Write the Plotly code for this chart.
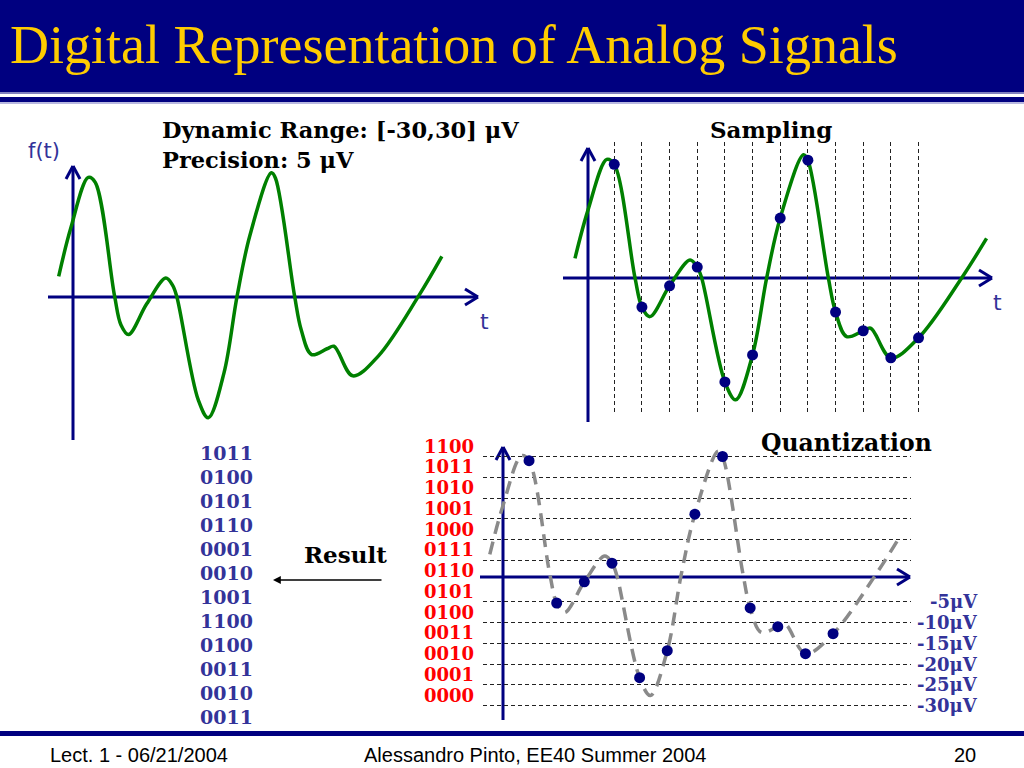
import plotly.graph_objects as go

W, H = 1024, 768

# ---------------- data ----------------
# analog signal f(t): t in sample periods, value in microvolts
CURVE_T = [-0.42, 0.05, 0.73, 1.0, 1.75, 2.0, 2.29, 3.0, 3.74, 4.0, 4.16, 5.0, 5.39,
           6.0, 6.51, 7.0, 7.84, 8.0, 8.74, 9.0, 9.4, 10.0, 10.27, 11.0, 12.0, 13.56, 14.46]
CURVE_V = [6.4, 18.0, 30.2, 29.0, 1.7, -5.3, -7.6, -0.2, 6.0, 4.3, 1.7, -23.3, -27.6,
           -16.8, 1.7, 16.1, 31.3, 30.0, 1.7, -6.5, -12.4, -11.0, -10.4, -17.5, -12.7, 1.7, 11.2]

# samples
SAMPLE_T = [1, 2, 3, 4, 5, 6, 7, 8, 9, 10, 11, 12]
SAMPLE_V = [29.0, -5.3, -0.2, 4.3, -23.3, -16.8, 16.1, 30.0, -6.5, -11.0, -17.5, -12.7]

# quantization levels (uV) and codes
LEVELS = [-30, -25, -20, -15, -10, -5, 5, 10, 15, 20, 25, 30]
CODES = ["0000", "0001", "0010", "0011", "0100", "0101", "0110",
         "0111", "1000", "1001", "1010", "1011", "1100"]
CODE_V = [-27.5, -22.5, -17.5, -12.5, -7.5, -2.5, 2.5, 7.5, 12.5, 17.5, 22.5, 27.5, 32.5]
UV_LEVELS = [-5, -10, -15, -20, -25, -30]
UV_LABELS = ["-5μV", "-10μV", "-15μV", "-20μV", "-25μV", "-30μV"]

RESULT_CODES = ["1011", "0100", "0101", "0110", "0001", "0010",
                "1001", "1100", "0100", "0011", "0010", "0011"]

TITLE = "Digital Representation of Analog Signals"
FOOTER_LEFT = "Lect. 1 - 06/21/2004"
FOOTER_MID = "Alessandro Pinto, EE40 Summer 2004"
FOOTER_RIGHT = "20"

# ---------------- styles ----------------
NAVY = "#000080"
LABEL_NAVY = "#333399"
GREEN = "#008000"
GRAY = "#8a8a8a"
RED = "#ff0000"
SERIF_B = "DejaVu Serif"


def px(x):
    return x / W


def py(y):
    return 1 - y / H


def axes(xbox, ybox, x0, sx, y0, sy):
    xd = [xbox[0] / W, xbox[1] / W]
    xr = [(xbox[0] - x0) / sx, (xbox[1] - x0) / sx]
    yd = [1 - ybox[1] / H, 1 - ybox[0] / H]
    yr = [(y0 - ybox[1]) / sy, (y0 - ybox[0]) / sy]
    return xd, xr, yd, yr


fig = go.Figure()

# left: f(t)
fig.add_trace(go.Scatter(x=CURVE_T, y=CURVE_V, mode="lines", line=dict(color=GREEN, width=3.5, shape="spline", smoothing=1.0),
                         xaxis="x", yaxis="y", hoverinfo="skip"))
# sampling
fig.add_trace(go.Scatter(x=CURVE_T, y=CURVE_V, mode="lines", line=dict(color=GREEN, width=3.5, shape="spline", smoothing=1.0),
                         xaxis="x2", yaxis="y2", hoverinfo="skip"))
fig.add_trace(go.Scatter(x=SAMPLE_T, y=SAMPLE_V, mode="markers", marker=dict(color=NAVY, size=11),
                         xaxis="x2", yaxis="y2", hoverinfo="skip"))
# quantization
fig.add_trace(go.Scatter(x=CURVE_T, y=CURVE_V, mode="lines",
                         line=dict(color=GRAY, width=3.5, shape="spline", smoothing=1.0, dash="13px,8px"),
                         xaxis="x3", yaxis="y3", hoverinfo="skip"))
fig.add_trace(go.Scatter(x=SAMPLE_T, y=SAMPLE_V, mode="markers", marker=dict(color=NAVY, size=11),
                         xaxis="x3", yaxis="y3", hoverinfo="skip"))

base = dict(showticklabels=False, zeroline=False, showline=False, ticks="", fixedrange=True)

xd, xr, yd, yr = axes([40, 480], [150, 445], 69.5, 25.75, 303, 4.16)
lay = dict(xaxis=dict(domain=xd, range=xr, showgrid=False, **base),
           yaxis=dict(domain=yd, range=yr, showgrid=False, **base))

xd, xr, yd, yr = axes([563, 995], [142, 415], 586.6, 27.66, 285, 4.16)
lay["xaxis2"] = dict(domain=xd, range=xr, showgrid=True, tickvals=SAMPLE_T, gridcolor="#222222",
                     gridwidth=1, griddash="4px,3px", anchor="y2", **base)
lay["yaxis2"] = dict(domain=yd, range=yr, showgrid=False, anchor="x2", **base)

xd, xr, yd, yr = axes([483, 911], [445, 720], 501.4, 27.64, 581, 4.15)
lay["xaxis3"] = dict(domain=xd, range=xr, showgrid=False, anchor="y3", **base)
lay["yaxis3"] = dict(domain=yd, range=yr, showgrid=True, tickvals=LEVELS, gridcolor="#222222",
                     gridwidth=1, griddash="4px,3px", anchor="x3", **base)

shapes = []


def rect(x0, y0, x1, y1, color):
    shapes.append(dict(type="rect", xref="paper", yref="paper", x0=px(x0), x1=px(x1), y0=py(y0), y1=py(y1),
                       fillcolor=color, line=dict(width=0), layer="below"))


def seg(x0, y0, x1, y1, color=NAVY, width=3):
    shapes.append(dict(type="line", xref="paper", yref="paper", x0=px(x0), x1=px(x1), y0=py(y0), y1=py(y1),
                       line=dict(color=color, width=width), layer="between"))


def arrow_axis(x0, y0, x1, y1):
    seg(x0, y0, x1, y1)
    if y0 == y1:  # horizontal to the right
        seg(x1, y1, x1 - 13, y1 - 8)
        seg(x1, y1, x1 - 13, y1 + 8)
    else:  # vertical upward
        seg(x1, y1, x1 - 7, y1 + 13)
        seg(x1, y1, x1 + 7, y1 + 13)


# header / footer bands
rect(0, 0, W, 92, NAVY)
rect(0, 92, W, 94, "#8080c0")
rect(0, 97, W, 102, NAVY)
rect(0, 102, W, 104, "#b8b8e0")
rect(0, 731, W, 736, NAVY)

# axes with arrows
arrow_axis(73, 440, 73, 166)
arrow_axis(48, 297, 478, 297)
arrow_axis(588, 422, 588, 148)
arrow_axis(563, 278, 992, 278)
arrow_axis(503, 720, 503, 447)
arrow_axis(480, 577, 910, 577)

ann = []


def text(x, y, s, size, color="black", family=SERIF_B, xanchor="left", bold=False, yref="paper"):
    ann.append(dict(x=px(x), y=(py(y) if yref == "paper" else y), xref="paper", yref=yref,
                    text=(f"<b>{s}</b>" if bold else s), showarrow=False,
                    xanchor=xanchor, yanchor="middle",
                    font=dict(size=size, color=color, family=family)))


text(8, 45, TITLE, 54, color="#ffcc00", family="Liberation Serif")
text(48, 755, FOOTER_LEFT, 20, family="Liberation Sans")
text(362, 755, FOOTER_MID, 20, family="Liberation Sans")
text(978, 755, FOOTER_RIGHT, 20, family="Liberation Sans", xanchor="right")

text(160, 130, "Dynamic Range: [-30,30] μV", 22.5, bold=True)
text(160, 160, "Precision: 5 μV", 22.5, bold=True)
text(771, 129, "Sampling", 23, bold=True, xanchor="center")
text(846, 443, "Quantization", 23.5, bold=True, xanchor="center")
text(345, 554, "Result", 23, bold=True, xanchor="center")

text(44, 151, "f(t)", 21, color=LABEL_NAVY, family="DejaVu Sans", xanchor="center")
text(484, 322, "t", 22, color=LABEL_NAVY, family="DejaVu Sans", xanchor="center")
text(997, 302, "t", 22, color=LABEL_NAVY, family="DejaVu Sans", xanchor="center")

for i, c in enumerate(RESULT_CODES):
    text(226, 453 + 24 * i, c, 19, color=LABEL_NAVY, bold=True, xanchor="center")

for c, v in zip(CODES, CODE_V):
    text(476, v, c, 18, color=RED, bold=True, xanchor="right", yref="y3")

for lab, v in zip(UV_LABELS, UV_LEVELS):
    text(980, v, lab, 18, color=LABEL_NAVY, bold=True, xanchor="right", yref="y3")

# Result arrow
ann.append(dict(x=px(273), y=py(580), xref="paper", yref="paper", text="", showarrow=True,
                ax=110, ay=0, axref="pixel", ayref="pixel", arrowhead=2, arrowsize=1.2,
                arrowwidth=1.3, arrowcolor="black", standoff=0))

fig.update_layout(width=W, height=H, margin=dict(l=0, r=0, t=0, b=0),
                  paper_bgcolor="white", plot_bgcolor="rgba(0,0,0,0)",
                  showlegend=False, shapes=shapes, annotations=ann, **lay)

fig.write_html("out.html", config={"displayModeBar": False, "staticPlot": True},
               post_script="document.body.style.margin='0px';document.body.style.overflow='hidden';")
